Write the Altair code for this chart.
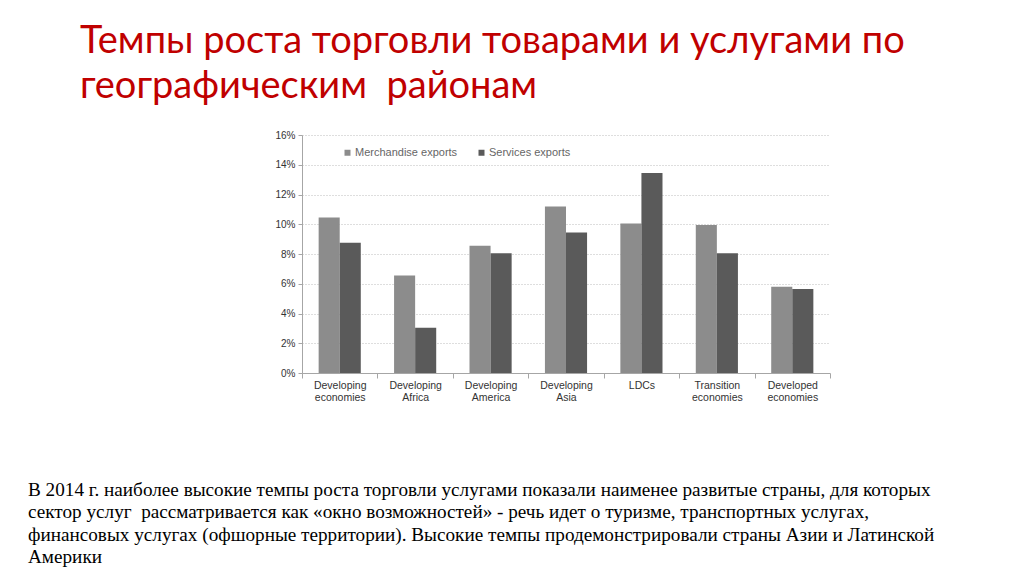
import altair as alt
import pandas as pd

regions = ["Developing economies", "Developing Africa", "Developing America",
           "Developing Asia", "LDCs", "Transition economies", "Developed economies"]
merchandise = [10.45, 6.55, 8.55, 11.2, 10.05, 9.95, 5.8]
services = [8.75, 3.05, 8.05, 9.45, 13.45, 8.05, 5.65]
series = ["Merchandise exports", "Services exports"]
colors = ["#8c8c8c", "#5a5a5a"]

title_lines = ["Темпы роста торговли товарами и услугами по",
               "географическим\u00a0 районам"]
note_lines = [
    "В 2014 г. наиболее высокие темпы роста торговли услугами показали наименее развитые страны, для которых",
    "сектор услуг\u00a0 рассматривается как «окно возможностей» - речь идет о туризме, транспортных услугах,",
    "финансовых услугах (офшорные территории). Высокие темпы продемонстрировали страны Азии и Латинской",
    "Америки",
]

rows = []
for r, m, s in zip(regions, merchandise, services):
    rows.append({"region": r, "series": series[0], "value": m})
    rows.append({"region": r, "series": series[1], "value": s})
df = pd.DataFrame(rows)

W, H = 528, 238

bars = alt.Chart(df).mark_bar().encode(
    x=alt.X("region:N", sort=regions,
            scale=alt.Scale(paddingInner=0, paddingOuter=0),
            axis=alt.Axis(title=None, labelAngle=0, tickBand="extent",
                          labelExpr="split(datum.label, ' ')",
                          labelFont="Liberation Sans", labelFontSize=10.5,
                          labelColor="#333333", labelPadding=2,
                          domainColor="#a6a6a6", tickColor="#a6a6a6",
                          tickSize=5, labelLineHeight=12)),
    xOffset=alt.XOffset("series:N", sort=series,
                        scale=alt.Scale(paddingInner=0, paddingOuter=0.79)),
    y=alt.Y("value:Q", scale=alt.Scale(domain=[0, 16]),
            axis=alt.Axis(title=None, values=list(range(0, 17, 2)),
                          labelExpr="datum.value + '%'",
                          labelFont="Liberation Sans", labelFontSize=10,
                          labelColor="#333333", labelPadding=3,
                          domainColor="#a6a6a6", tickColor="#a6a6a6",
                          tickSize=4, gridColor="#bdbdbd", gridDash=[1, 2])),
    color=alt.Color("series:N", sort=series,
                    scale=alt.Scale(domain=series, range=colors),
                    legend=alt.Legend(title=None, orient="none", legendX=40,
                                      legendY=12, direction="horizontal",
                                      symbolType="square", symbolSize=36,
                                      labelFont="Liberation Sans",
                                      labelFontSize=11, labelColor="#666666",
                                      columnPadding=18, symbolOffset=0,
                                      labelOffset=2)),
)

one = alt.Data(values=[{}])

title = alt.Chart(one).mark_text(
    align="left", baseline="alphabetic", font="Lato", fontSize=38,
    color="#c00000", lineHeight=45
).encode(x=alt.value(-222), y=alt.value(-82), text=alt.value(title_lines))

note = alt.Chart(one).mark_text(
    align="left", baseline="alphabetic",
    font="Liberation Serif",
    fontSize=19.2, color="#000000", lineHeight=22.4
).encode(x=alt.value(-274), y=alt.value(361), text=alt.value(note_lines))

chart = alt.layer(bars, title, note).properties(
    width=W, height=H,
    autosize=alt.AutoSizeParams(type="none"),
    padding={"left": 294, "top": 127, "right": 186, "bottom": 195},
).configure(background="white", view=alt.ViewConfig(stroke=None))

chart.save("out.html", embed_options={"renderer": "svg", "actions": False})
